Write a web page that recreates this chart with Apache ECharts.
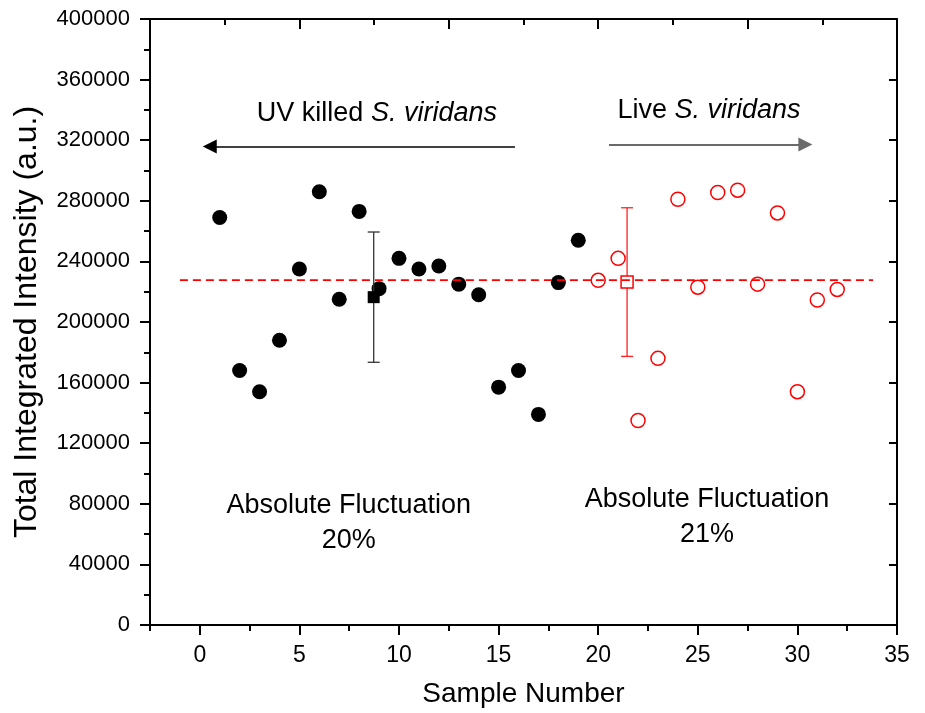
<!DOCTYPE html>
<html>
<head>
<meta charset="utf-8">
<script src="https://cdn.jsdelivr.net/npm/echarts@6/dist/echarts.min.js"></script>
<style>
html,body{margin:0;padding:0;background:#fff;}
#chart{width:925px;height:713px;}
</style>
</head>
<body>
<div id="chart"></div>
<script>
// ---------- data ----------
const killedX = [1,2,3,4,5,6,7,8,9,10,11,12,13,14,15,16,17,18,19];
const killedY = [269000,168000,154000,188000,235000,286000,215000,273000,222000,242000,235000,237000,225000,218000,157000,168000,139000,226000,254000];
const liveX = [20,21,22,23,24,25,26,27,28,29,30,31,32];
const liveY = [227500,242000,135000,176000,281000,223000,285500,287000,225000,272000,154000,214500,221500];

// mean with error bar: [x, mean, low, high]
const killedMean = [8.73, 216400, 173400, 259400];
const liveMean = [21.45, 226400, 177300, 275400];

// overall average (dashed line)
const avgLineX = [-1, 33.8];
const avgValue = 227700;

// arrows [xStart, xEnd, y]
const arrowKilled = [15.82, 0.5, 315800];
const arrowLive = [20.54, 30.4, 317100];

// annotations
const annoX = [8.89, 25.56, 7.48, 25.46];
const annoY = [337600, 339900, 67300, 70950];
const annoText = ['{n|UV killed }{i|S. viridans}', '{n|Live }{i|S. viridans}', '{n|Absolute Fluctuation}\n{n|20%}', '{n|Absolute Fluctuation}\n{n|21%}'];

// axis ticks
const xMajorTicks = [0,5,10,15,20,25,30,35];
const xMinorTicks = [-2.5,2.5,7.5,12.5,17.5,22.5,27.5,32.5];
const topMajorTicks = [5,12.5,20,27.5];
const topMinorTicks = [1.25,8.75,16.25,23.75,31.25];
const yMin = 0, yMax = 400000, yInterval = 40000;
const xMin = -2.5, xMax = 35;

const FONT = "'Liberation Sans', Arial, sans-serif";
const chart = echarts.init(document.getElementById('chart'), null, {renderer:'canvas'});

const axisLine = {show:true, onZero:false, lineStyle:{color:'#000', width:2}};

function errRender(color){
  return function(params, api){
    const x = api.value(0);
    const lo = api.coord([x, api.value(2)]);
    const hi = api.coord([x, api.value(3)]);
    const w = 6;
    const st = {stroke:color, lineWidth:1.3};
    return {type:'group', children:[
      {type:'line', shape:{x1:lo[0],y1:lo[1],x2:hi[0],y2:hi[1]}, style:st},
      {type:'line', shape:{x1:lo[0]-w,y1:lo[1],x2:lo[0]+w,y2:lo[1]}, style:st},
      {type:'line', shape:{x1:hi[0]-w,y1:hi[1],x2:hi[0]+w,y2:hi[1]}, style:st}
    ]};
  };
}

const option = {
  backgroundColor:'#fff',
  animation:false,
  textStyle:{fontFamily:FONT},
  grid:{left:150, right:28, top:19, bottom:87, containLabel:false},
  xAxis:[
    { type:'value', position:'bottom', min:xMin, max:xMax, interval:2.5,
      axisLine:axisLine, splitLine:{show:false},
      axisTick:{show:true, customValues:xMajorTicks, length:10, lineStyle:{color:'#000', width:2}},
      axisLabel:{show:true, customValues:xMajorTicks, color:'#000', fontSize:23, fontFamily:FONT, margin:19,
        formatter:v=>String(v)},
      name:'Sample Number', nameLocation:'middle', nameGap:55,
      nameTextStyle:{color:'#000', fontSize:28, fontFamily:FONT}
    },
    { type:'value', position:'bottom', min:xMin, max:xMax, interval:2.5,
      axisLine:{show:false, onZero:false}, splitLine:{show:false},
      axisTick:{show:true, customValues:xMinorTicks, length:6, lineStyle:{color:'#000', width:2}},
      axisLabel:{show:false}
    },
    { type:'value', position:'top', min:xMin, max:xMax, interval:2.5,
      axisLine:axisLine, splitLine:{show:false},
      axisTick:{show:true, inside:true, customValues:topMajorTicks, length:10, lineStyle:{color:'#000', width:2}},
      axisLabel:{show:false}
    },
    { type:'value', position:'top', min:xMin, max:xMax, interval:2.5,
      axisLine:{show:false, onZero:false}, splitLine:{show:false},
      axisTick:{show:true, inside:true, customValues:topMinorTicks, length:6, lineStyle:{color:'#000', width:2}},
      axisLabel:{show:false}
    }
  ],
  yAxis:[
    { type:'value', position:'left', min:yMin, max:yMax, interval:yInterval,
      axisLine:axisLine, splitLine:{show:false},
      axisTick:{show:true, length:10, lineStyle:{color:'#000', width:2}},
      minorTick:{show:true, splitNumber:2, length:6, lineStyle:{color:'#000', width:2}},
      axisLabel:{color:'#000', fontSize:22, fontFamily:FONT, margin:20, formatter:v=>String(v)},
      name:'Total Integrated Intensity (a.u.)', nameLocation:'middle', nameGap:107,
      nameTextStyle:{color:'#000', fontSize:32, fontFamily:FONT}
    },
    { type:'value', position:'right', min:yMin, max:yMax, interval:yInterval,
      axisLine:axisLine, splitLine:{show:false},
      axisTick:{show:true, inside:true, length:8, lineStyle:{color:'#000', width:2}},
      axisLabel:{show:false}
    }
  ],
  series:[
    { type:'scatter', name:'UV killed', symbol:'circle', symbolSize:15,
      itemStyle:{color:'#000', opacity:1},
      data:killedX.map((x,i)=>[x, killedY[i]]), z:3 },
    { type:'scatter', name:'Live', symbol:'circle', symbolSize:14,
      itemStyle:{color:'rgba(0,0,0,0)', borderColor:'#ff0000', borderWidth:1.5, opacity:1},
      data:liveX.map((x,i)=>[x, liveY[i]]), z:3 },
    { type:'custom', name:'killed err', renderItem:errRender('#333'),
      data:[killedMean], z:4 },
    { type:'custom', name:'live err', renderItem:errRender('#ff2020'),
      data:[liveMean], z:4 },
    { type:'scatter', name:'killed mean', symbol:'rect', symbolSize:12,
      itemStyle:{color:'#000', opacity:1}, data:[[killedMean[0], killedMean[1]]], z:5 },
    { type:'scatter', name:'live mean', symbol:'rect', symbolSize:12,
      itemStyle:{color:'#fff', borderColor:'#ff0000', borderWidth:1.5, opacity:1},
      data:[[liveMean[0], liveMean[1]]], z:5 },
    { type:'line', name:'average', symbol:'none',
      lineStyle:{color:'#ff0000', width:1.8, type:[8,5]},
      data:avgLineX.map(x=>[x, avgValue]), z:6 },
    { type:'lines', coordinateSystem:'cartesian2d', name:'arrowK',
      symbol:['none','triangle'], symbolSize:[8,14],
      lineStyle:{color:'#000', width:1.5, opacity:1},
      data:[{coords:[[arrowKilled[0], arrowKilled[2]],[arrowKilled[1], arrowKilled[2]]]}], z:6 },
    { type:'lines', coordinateSystem:'cartesian2d', name:'arrowL',
      symbol:['none','triangle'], symbolSize:[8,14],
      lineStyle:{color:'#6a6a6a', width:2, opacity:1},
      data:[{coords:[[arrowLive[0], arrowLive[2]],[arrowLive[1], arrowLive[2]]]}], z:6 },
    { type:'scatter', name:'annotations', symbolSize:0, silent:true,
      itemStyle:{opacity:1},
      data:annoX.map((x,i)=>({value:[x, annoY[i]], label:{formatter:annoText[i]}})),
      label:{show:true, position:'inside', color:'#000', opacity:1, fontSize:27, fontFamily:FONT,
        lineHeight:35, align:'center', verticalAlign:'middle',
        rich:{ n:{fontSize:27, fontFamily:FONT, color:'#000', lineHeight:35},
               i:{fontSize:27, fontFamily:FONT, fontStyle:'italic', color:'#000', lineHeight:35} } },
      z:7 }
  ]
};
chart.setOption(option);
</script>
</body>
</html>
